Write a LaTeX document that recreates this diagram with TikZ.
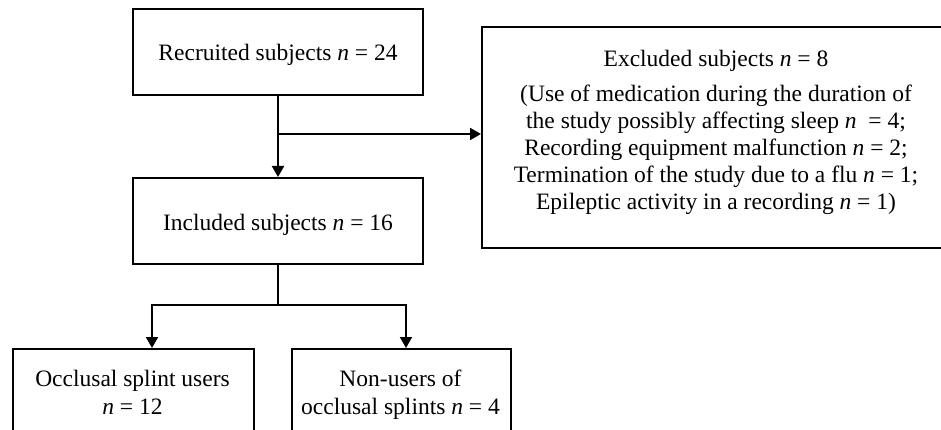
\documentclass[tikz,border=0pt]{standalone}
\usepackage{fontspec}
\setmainfont{Liberation Serif}
\usetikzlibrary{arrows.meta}
\begin{document}
\begin{tikzpicture}[x=1pt,y=-1pt,
  box/.style={draw,line width=2pt,rectangle,inner sep=0pt},
  txt/.style={font=\fontsize{23.5}{27}\selectfont,align=center,inner sep=0pt},
  arr/.style={line width=2pt,-{Triangle[width=12pt,length=11pt]}},
  ln/.style={line width=2pt}]
\useasboundingbox (0,0) rectangle (941,430);
\clip (0,0) rectangle (941,430);
% boxes
\node[box,minimum width=290pt,minimum height=86pt] (rec) at (278,52) {};
\node[txt,anchor=base] (rect) at (278,61) {Recruited subjects \textit{n} = 24};
\node[box,minimum width=290pt,minimum height=86pt] (inc) at (278,221) {};
\node[txt,anchor=base] (inct) at (278,230) {Included subjects \textit{n} = 16};
\node[box,minimum width=468pt,minimum height=220.5pt] (exc) at (716,137.25) {};
\node[txt,anchor=base] (exct) at (716,210) {Excluded subjects \textit{n} = 8\\[8pt]
(Use of medication during the duration of\\
the study possibly affecting sleep \textit{n}\ \ = 4;\\
Recording equipment malfunction \textit{n} = 2;\\
Termination of the study due to a flu \textit{n} = 1;\\
Epileptic activity in a recording \textit{n} = 1)};
\node[box,minimum width=241pt,minimum height=120pt,anchor=north west] (occ) at (12,348) {};
\node[txt,anchor=base] (occt) at (132.5,414) {Occlusal splint users\\[1pt]\textit{n} = 12};
\node[box,minimum width=219pt,minimum height=120pt,anchor=north west] (non) at (291,348) {};
\node[txt,anchor=base] (nont) at (400.5,414) {Non-users of\\[1pt]occlusal splints \textit{n} = 4};
% connectors
\coordinate (j) at (278,134);
\coordinate (s) at (278,305);
\coordinate (c1) at (152,305);
\coordinate (c2) at (406,305);
\draw[arr] (rec.south) -- (inc.north);
\draw[arr] (j) -- (j -| exc.west);
\draw[ln] (inc.south) -- (s);
\draw[ln,line cap=rect] (c1) -- (c2);
\draw[arr] (c1) -- (c1 |- occ.north);
\draw[arr] (c2) -- (c2 |- non.north);
\end{tikzpicture}
\end{document}
